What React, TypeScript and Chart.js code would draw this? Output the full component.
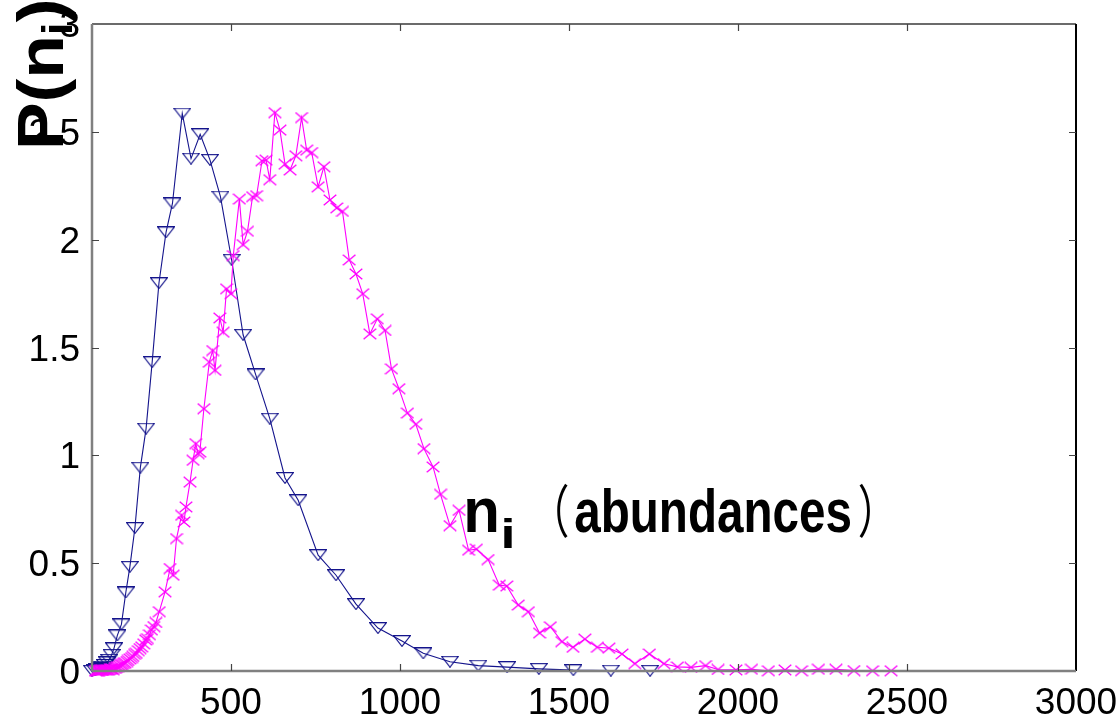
import React, { useEffect, useRef } from "react";
import { Chart, registerables } from "chart.js";

Chart.register(...registerables);

// ---- data ----
const blueX = [89, 98, 105, 112, 120, 127, 134, 140, 147, 154, 164, 176, 189, 201, 216, 232, 249, 267, 287, 308, 327, 356, 382, 409, 438, 469, 502, 536, 573, 615, 660, 699, 758, 811, 870, 935, 1006, 1069, 1148, 1232, 1317, 1411, 1513, 1624, 1740];
const blueY = [0.001, 0.004, 0.008, 0.013, 0.02, 0.028, 0.04, 0.052, 0.075, 0.105, 0.165, 0.216, 0.364, 0.483, 0.663, 0.943, 1.124, 1.432, 1.798, 2.034, 2.168, 2.585, 2.376, 2.489, 2.37, 2.2, 1.907, 1.559, 1.375, 1.17, 0.895, 0.792, 0.537, 0.444, 0.31, 0.199, 0.139, 0.082, 0.043, 0.025, 0.018, 0.01, 0.004, 0.002, 0.001];

const magX = [100, 102, 105, 107, 110, 112, 115, 118, 120, 123, 126, 129, 132, 135, 138, 142, 145, 148, 152, 156, 159, 163, 167, 171, 175, 179, 183, 187, 192, 196, 201, 206, 210, 215, 220, 226, 231, 236, 242, 248, 253, 259, 265, 272, 278, 288, 305, 320, 329, 339, 354, 361, 367, 379, 388, 396, 403, 408, 420, 436, 446, 453, 467, 477, 487, 500, 507, 525, 536, 549, 564, 576, 592, 604, 615, 630, 645, 660, 675, 692, 709, 724, 739, 758, 775, 793, 813, 830, 850, 870, 890, 911, 933, 956, 975, 997, 1022, 1047, 1071, 1098, 1120, 1148, 1175, 1203, 1226, 1261, 1294, 1316, 1350, 1380, 1413, 1445, 1479, 1512, 1547, 1584, 1618, 1657, 1695, 1738, 1781, 1821, 1861, 1904, 1941, 1994, 2040, 2090, 2139, 2188, 2238, 2290, 2343, 2398, 2453];
const magY = [0.001, 0.001, 0.002, 0.002, 0.002, 0.003, 0.003, 0.003, 0.004, 0.004, 0.005, 0.005, 0.006, 0.006, 0.005, 0.008, 0.009, 0.01, 0.006, 0.012, 0.015, 0.018, 0.02, 0.024, 0.029, 0.031, 0.035, 0.038, 0.044, 0.049, 0.056, 0.062, 0.068, 0.077, 0.082, 0.094, 0.104, 0.112, 0.126, 0.144, 0.15, 0.168, 0.19, 0.206, 0.225, 0.275, 0.367, 0.475, 0.444, 0.614, 0.722, 0.691, 0.761, 0.876, 0.977, 1.054, 1.008, 1.015, 1.216, 1.432, 1.486, 1.394, 1.637, 1.571, 1.772, 1.749, 1.926, 2.188, 1.977, 2.039, 2.199, 2.204, 2.366, 2.369, 2.278, 2.589, 2.508, 2.35, 2.323, 2.389, 2.566, 2.415, 2.404, 2.245, 2.338, 2.184, 2.147, 2.131, 1.906, 1.841, 1.749, 1.563, 1.633, 1.579, 1.401, 1.309, 1.196, 1.144, 1.031, 0.946, 0.819, 0.674, 0.745, 0.56, 0.565, 0.517, 0.398, 0.394, 0.306, 0.275, 0.176, 0.205, 0.136, 0.11, 0.148, 0.11, 0.106, 0.079, 0.034, 0.079, 0.034, 0.019, 0.017, 0.025, 0.007, 0.005, 0.008, 0.001, 0.005, 0.001, 0.008, 0.008, 0.002, 0.001, 0.001];

const xTicks = [500, 1000, 1500, 2000, 2500, 3000];
const xTickLabels = ["500", "1000", "1500", "2000", "2500", "3000"];
const yTicks = [0, 0.5, 1, 1.5, 2, 2.5, 3];
const yTickLabels = ["0", "0.5", "1", "1.5", "2", "2.5", "3"];

const X_MIN = 89;
const X_MAX = 3000;
const Y_MIN = 0;
const Y_MAX = 3;

const BLUE = "#14148c";
const MAGENTA = "#ff00ff";
const FONT = '"Liberation Sans", Arial, Helvetica, sans-serif';

function makeTriangle(): HTMLCanvasElement {
  const c = document.createElement("canvas");
  const w = 18;
  const h = 12;
  c.width = w;
  c.height = h;
  const g = c.getContext("2d")!;
  g.strokeStyle = BLUE;
  g.lineWidth = 1.1;
  g.beginPath();
  g.moveTo(0.6, 0.6);
  g.lineTo(w - 0.6, 0.6);
  g.lineTo(w / 2, h - 0.6);
  g.closePath();
  g.stroke();
  return c;
}

function makeCross(): HTMLCanvasElement {
  const c = document.createElement("canvas");
  const w = 14;
  const h = 12;
  c.width = w;
  c.height = h;
  const g = c.getContext("2d")!;
  g.strokeStyle = MAGENTA;
  g.lineWidth = 1.3;
  g.beginPath();
  g.moveTo(0.7, 0.7);
  g.lineTo(w - 0.7, h - 0.7);
  g.moveTo(w - 0.7, 0.7);
  g.lineTo(0.7, h - 0.7);
  g.stroke();
  return c;
}

// draw text so that its ink box fills the given rectangle
function fitText(
  ctx: CanvasRenderingContext2D,
  text: string,
  font: string,
  left: number,
  top: number,
  right: number,
  bottom: number
) {
  ctx.font = font;
  ctx.textAlign = "left";
  ctx.textBaseline = "alphabetic";
  const m = ctx.measureText(text);
  const iw = m.actualBoundingBoxLeft + m.actualBoundingBoxRight;
  const ih = m.actualBoundingBoxAscent + m.actualBoundingBoxDescent;
  const sx = (right - left) / iw;
  const sy = (bottom - top) / ih;
  ctx.save();
  ctx.translate(left, top);
  ctx.scale(sx, sy);
  ctx.fillText(text, m.actualBoundingBoxLeft, m.actualBoundingBoxAscent);
  ctx.restore();
}

const framePlugin = {
  id: "gnuplotFrame",
  afterDraw(chart: any) {
    const ctx: CanvasRenderingContext2D = chart.ctx;
    const { left, right, top, bottom } = chart.chartArea;
    const xs = chart.scales.x;
    const ys = chart.scales.y;
    ctx.save();

    // border
    ctx.lineCap = "butt";
    ctx.strokeStyle = "#3a3a3a";
    ctx.lineWidth = 1.5;
    ctx.beginPath();
    ctx.moveTo(left, top);
    ctx.lineTo(right, top);
    ctx.stroke();
    ctx.strokeStyle = "#000";
    ctx.lineWidth = 2;
    ctx.beginPath();
    ctx.moveTo(right, top);
    ctx.lineTo(right, bottom);
    ctx.stroke();
    ctx.strokeStyle = "#808080";
    ctx.lineWidth = 2.5;
    ctx.beginPath();
    ctx.moveTo(left, top);
    ctx.lineTo(left, bottom);
    ctx.moveTo(left, bottom);
    ctx.lineTo(right, bottom);
    ctx.stroke();

    // ticks (inward, mirrored)
    ctx.strokeStyle = "#444";
    ctx.lineWidth = 1.2;
    ctx.beginPath();
    xTicks.forEach((v) => {
      const px = Math.round(xs.getPixelForValue(v)) + 0.5;
      if (px < right - 2) {
        ctx.moveTo(px, bottom);
        ctx.lineTo(px, bottom - 7);
        ctx.moveTo(px, top);
        ctx.lineTo(px, top + 7);
      }
    });
    yTicks.forEach((v) => {
      const py = Math.round(ys.getPixelForValue(v)) + 0.5;
      if (py > top + 2 && py < bottom - 2) {
        ctx.moveTo(left, py);
        ctx.lineTo(left + 7, py);
        ctx.moveTo(right, py);
        ctx.lineTo(right - 7, py);
      }
    });
    ctx.stroke();

    // tick labels
    ctx.fillStyle = "#000";
    ctx.font = `37px ${FONT}`;
    ctx.textBaseline = "alphabetic";
    ctx.textAlign = "center";
    xTicks.forEach((v, i) => {
      ctx.fillText(xTickLabels[i], xs.getPixelForValue(v), 714);
    });
    ctx.textAlign = "right";
    yTicks.forEach((v, i) => {
      ctx.fillText(yTickLabels[i], 80, ys.getPixelForValue(v) + 13);
    });

    // annotation  n_i （abundances）
    fitText(ctx, "n", `bold 64px ${FONT}`, 467, 498, 497, 532);
    fitText(ctx, "i", `bold 42px ${FONT}`, 503, 518, 512, 548);
    fitText(ctx, "（", `400 58px "Noto Sans CJK JP", sans-serif`, 557, 483, 568, 538);
    fitText(ctx, "abundances", `bold 62px ${FONT}`, 575, 488, 850, 533);
    fitText(ctx, "）", `400 58px "Noto Sans CJK JP", sans-serif`, 859, 483, 870, 538);

    // y title P(n_i), rotated
    ctx.save();
    ctx.translate(63, 150);
    ctx.rotate(-Math.PI / 2);
    ctx.scale(1.15, 1.05);
    ctx.textAlign = "left";
    ctx.textBaseline = "alphabetic";
    ctx.font = `bold 62px ${FONT}`;
    const w1 = ctx.measureText("P(n").width;
    ctx.fillText("P(n", 0, 0);
    ctx.font = `bold 40px ${FONT}`;
    const w2 = ctx.measureText("i").width;
    ctx.fillText("i", w1, 9);
    ctx.font = `bold 62px ${FONT}`;
    ctx.fillText(")", w1 + w2, 0);
    ctx.restore();

    ctx.restore();
  },
};

export default function App() {
  const ref = useRef<HTMLCanvasElement | null>(null);

  useEffect(() => {
    if (!ref.current) return;
    const tri = makeTriangle();
    const cross = makeCross();
    const chart = new Chart(ref.current, {
      type: "scatter",
      data: {
        datasets: [
          {
            label: "magenta",
            data: magX.map((x, i) => ({ x, y: magY[i] })),
            showLine: true,
            borderColor: MAGENTA,
            backgroundColor: MAGENTA,
            borderWidth: 1.1,
            pointStyle: cross as any,
            pointRadius: 6,
            pointHoverRadius: 6,
            tension: 0,
            clip: false as any,
          },
          {
            label: "blue",
            data: blueX.map((x, i) => ({ x, y: blueY[i] })),
            showLine: true,
            borderColor: BLUE,
            backgroundColor: BLUE,
            borderWidth: 1.1,
            pointStyle: tri as any,
            pointRadius: 6,
            pointHoverRadius: 6,
            tension: 0,
            clip: false as any,
          },
        ],
      },
      options: {
        responsive: false,
        animation: false,
        devicePixelRatio: 1,
        layout: { padding: { left: 92, right: 44, top: 24, bottom: 48 } },
        plugins: {
          legend: { display: false },
          tooltip: { enabled: false },
        },
        events: [],
        scales: {
          x: { type: "linear", min: X_MIN, max: X_MAX, display: false },
          y: { type: "linear", min: Y_MIN, max: Y_MAX, display: false },
        },
      },
      plugins: [framePlugin],
    });
    return () => chart.destroy();
  }, []);

  return (
    <div style={{ position: "absolute", left: 0, top: 0, width: 1120, height: 719, background: "#fff" }}>
      <canvas ref={ref} width={1120} height={719} style={{ width: 1120, height: 719, display: "block" }} />
    </div>
  );
}
